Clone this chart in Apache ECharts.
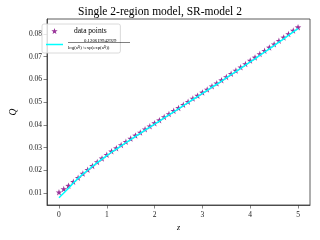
<!DOCTYPE html>
<html>
<head>
<meta charset="utf-8">
<script src="https://cdn.jsdelivr.net/npm/echarts@6/dist/echarts.min.js"></script>
<style>html,body{margin:0;padding:0;background:#fff}#c{width:320px;height:240px}</style>
</head>
<body>
<div id="c"></div>
<script>
const titleText = 'Single 2-region model, SR-model 2';
const xTicks = [0, 1, 2, 3, 4, 5];
const yTicks = [0.01, 0.02, 0.03, 0.04, 0.05, 0.06, 0.07, 0.08];
const zValues = [0.0,0.1,0.2,0.3,0.4,0.5,0.6,0.7,0.8,0.9,1.0,1.1,1.2,1.3,1.4,1.5,1.6,1.7,1.8,1.9,2.0,2.1,2.2,2.3,2.4,2.5,2.6,2.7,2.8,2.9,3.0,3.1,3.2,3.3,3.4,3.5,3.6,3.7,3.8,3.9,4.0,4.1,4.2,4.3,4.4,4.5,4.6,4.7,4.8,4.9,5.0];
const qPoints = [0.0104,0.0118,0.0133,0.0150,0.0168,0.0186,0.0203,0.0220,0.0237,0.0253,0.0269,0.0284,0.0298,0.0312,0.0326,0.0340,0.0354,0.0367,0.0381,0.0394,0.0408,0.0421,0.0435,0.0448,0.0462,0.0475,0.0489,0.0502,0.0516,0.0529,0.0543,0.0556,0.0570,0.0583,0.0597,0.0611,0.0625,0.0639,0.0654,0.0668,0.0683,0.0697,0.0712,0.0726,0.0741,0.0755,0.0770,0.0785,0.0800,0.0815,0.0830];
const qFit = [0.0080,0.0101,0.0122,0.0145,0.0165,0.0184,0.0201,0.0218,0.0234,0.0250,0.0265,0.0280,0.0294,0.0308,0.0322,0.0336,0.0350,0.0363,0.0377,0.0390,0.0404,0.0417,0.0431,0.0444,0.0458,0.0471,0.0485,0.0498,0.0512,0.0525,0.0539,0.0552,0.0566,0.0579,0.0593,0.0607,0.0621,0.0635,0.0649,0.0663,0.0677,0.0691,0.0706,0.0720,0.0735,0.0749,0.0764,0.0779,0.0794,0.0809,0.0824];
const seriesNames = ['data points', 'fit'];
const fitNumerator = '0.120619942929';

const SERIF = '"Liberation Serif","DejaVu Serif",serif';
const star = 'path://M0,-10 L2.35,-3.24 L9.51,-3.09 L3.8,1.24 L5.88,8.09 L0,4 L-5.88,8.09 L-3.8,1.24 L-9.51,-3.09 L-2.35,-3.24 Z';
const lineIcon = 'path://M0,0 L0,0 M0,6 L0,6 M0,2.25 L17,2.25 L17,3.75 L0,3.75 Z';

const chart = echarts.init(document.getElementById('c'), null, {renderer: 'canvas'});
chart.setOption({
  animation: false,
  backgroundColor: '#fff',
  title: {
    text: titleText, left: 'center', top: 4, padding: [2, 0, 0, 0],
    textStyle: {fontFamily: SERIF, fontWeight: 'normal', fontSize: 11.5, color: '#000'}
  },
  grid: {left: 39, right: 10, top: 19, bottom: 35, show: true, borderColor: '#333', borderWidth: 0.8, backgroundColor: 'transparent'},
  xAxis: {
    type: 'value', min: -0.25, max: 5.25,
    name: 'z', nameLocation: 'middle', nameGap: 14,
    nameTextStyle: {fontFamily: SERIF, fontStyle: 'italic', fontSize: 8, color: '#000'},
    axisLine: {show: true, onZero: false, lineStyle: {color: '#333', width: 0.8}},
    axisTick: {show: true, length: 3.5, lineStyle: {color: '#333', width: 0.6}, customValues: xTicks},
    axisLabel: {fontFamily: SERIF, fontSize: 7.5, color: '#222', margin: 6, customValues: xTicks},
    splitLine: {show: false}
  },
  yAxis: {
    type: 'value', min: 0.0048, max: 0.0866,
    name: 'Q', nameLocation: 'middle', nameGap: 23, nameRotate: 90,
    nameTextStyle: {fontFamily: SERIF, fontStyle: 'italic', fontSize: 9.5, color: '#000'},
    axisLine: {show: true, onZero: false, lineStyle: {color: '#333', width: 0.8}},
    axisTick: {show: true, length: 3.5, lineStyle: {color: '#333', width: 0.6}, customValues: yTicks},
    axisLabel: {fontFamily: SERIF, fontSize: 7.5, color: '#222', margin: 5, customValues: yTicks,
      formatter: v => v.toFixed(2)},
    splitLine: {show: false}
  },
  legend: {
    orient: 'vertical', left: 42, top: 24,
    padding: [3, 4, 2, 4], itemGap: 3,
    backgroundColor: 'rgba(255,255,255,0.8)', borderColor: '#d0d0d0', borderWidth: 0.8, borderRadius: 2,
    itemWidth: 17, itemHeight: 6,
    data: [
      {name: seriesNames[0], icon: star, itemStyle: {color: '#800080'}},
      {name: seriesNames[1], icon: lineIcon, itemStyle: {color: '#00FFFF'}}
    ],
    formatter: function (name) {
      if (name === seriesNames[0]) return '{dp|data points}';
      return '{num|' + fitNumerator + '}\n{den|log(a}{sub|Q}{den|)+exp(exp(a}{sub|Q}{den|))}';
    },
    textStyle: {
      fontFamily: SERIF, color: '#000', fontSize: 7.5,
      rich: {
        dp: {fontFamily: SERIF, fontSize: 7.5, color: '#000', padding: [0, 0, 0, 6], height: 11},
        num: {fontFamily: SERIF, fontSize: 4.8, color: '#000', padding: [0, 0, 0, 16], height: 6, lineHeight: 6},
        den: {fontFamily: SERIF, fontSize: 4.8, color: '#000', height: 7, lineHeight: 7},
        sub: {fontFamily: SERIF, fontSize: 3.4, color: '#000', height: 7, lineHeight: 7, verticalAlign: 'bottom'}
      }
    }
  },
  graphic: [
    {type: 'line', shape: {x1: 68, y1: 42.5, x2: 130, y2: 42.5}, style: {stroke: '#000', lineWidth: 0.5}, z: 100}
  ],
  series: [
    {
      name: seriesNames[0], type: 'scatter', symbol: star, symbolSize: 6.5,
      itemStyle: {color: '#800080'},
      data: zValues.map((z, i) => [z, qPoints[i]]), z: 2
    },
    {
      name: seriesNames[1], type: 'line', showSymbol: false, symbol: 'none',
      lineStyle: {color: '#00FFFF', width: 1.5}, itemStyle: {color: '#00FFFF'},
      data: zValues.map((z, i) => [z, qFit[i]]), z: 3
    }
  ]
});
</script>
</body>
</html>
